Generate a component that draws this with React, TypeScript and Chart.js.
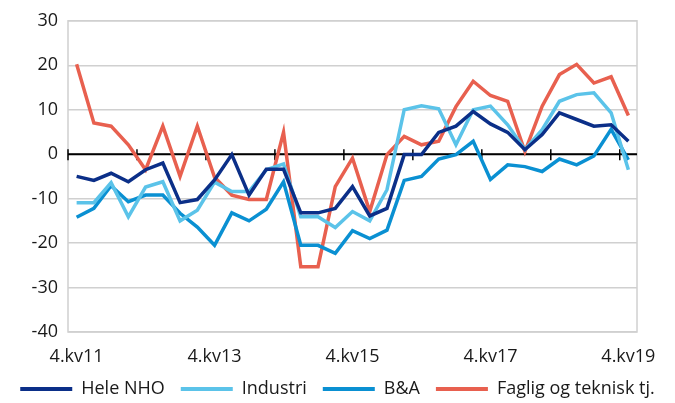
import React, { useEffect, useRef } from "react";
import { Chart, registerables } from "chart.js";

Chart.register(...registerables);

const quarters = [
  "4.kv11",
  "1.kv12", "2.kv12", "3.kv12", "4.kv12",
  "1.kv13", "2.kv13", "3.kv13", "4.kv13",
  "1.kv14", "2.kv14", "3.kv14", "4.kv14",
  "1.kv15", "2.kv15", "3.kv15", "4.kv15",
  "1.kv16", "2.kv16", "3.kv16", "4.kv16",
  "1.kv17", "2.kv17", "3.kv17", "4.kv17",
  "1.kv18", "2.kv18", "3.kv18", "4.kv18",
  "1.kv19", "2.kv19", "3.kv19", "4.kv19",
];

const shownLabels = ["4.kv11", "4.kv13", "4.kv15", "4.kv17", "4.kv19"];
const tickBoundaries = [0, 4, 8, 12, 16, 20, 24, 28, 32];

const heleNHO = [
  -5.0, -5.9, -4.3, -6.2, -3.5, -2.0, -10.9, -10.2, -5.8, -0.1, -9.2,
  -3.4, -3.4, -13.2, -13.2, -12.2, -7.3, -13.9, -12.2, -0.1, -0.1, 4.9,
  6.3, 9.6, 6.8, 4.9, 1.0, 4.4, 9.3, 7.8, 6.3, 6.6, 2.9,
];
const industri = [
  -10.9, -10.9, -6.4, -14.1, -7.4, -6.2, -15.0, -12.6, -6.3, -8.4, -8.4,
  -3.5, -2.2, -14.1, -14.1, -16.5, -12.9, -15.0, -8.0, 10.0, 10.9, 10.2,
  2.1, 10.0, 10.8, 6.6, 1.0, 5.5, 11.9, 13.4, 13.8, 9.3, -3.5,
];
const bogA = [
  -14.2, -12.2, -7.1, -10.7, -9.2, -9.2, -13.3, -16.4, -20.5, -13.2, -15.0,
  -12.4, -6.2, -20.5, -20.5, -22.3, -17.2, -19.0, -17.1, -5.9, -5.0, -1.1,
  -0.1, 2.9, -5.7, -2.4, -2.8, -3.9, -1.1, -2.4, -0.4, 5.6, -1.3,
];
const faglig = [
  20.2, 7.0, 6.3, 2.1, -3.5, 6.3, -5.0, 6.3, -5.2, -9.2, -10.2, -10.2,
  4.9, -25.3, -25.3, -7.3, -0.9, -12.9, -0.1, 4.0, 2.1, 2.9, 10.7, 16.4,
  13.2, 11.9, 0.6, 10.8, 17.9, 20.2, 16.0, 17.4, 8.7,
];

const seriesNames = ["Hele NHO", "Industri", "B&A", "Faglig og teknisk tj."];
const seriesColors = ["#0b2f88", "#5bc3e9", "#0a90d2", "#e8604f"];

const FONT = "'Open Sans', 'Noto Sans', sans-serif";

const framePlugin = {
  id: "frameAndZero",
  beforeDatasetsDraw(chart: any) {
    const { ctx, chartArea, scales } = chart;
    const x = scales.x;
    const y = scales.y;
    ctx.save();
    ctx.strokeStyle = "#d0d0d0";
    ctx.lineWidth = 1.5;
    ctx.strokeRect(chartArea.left, chartArea.top, chartArea.right - chartArea.left, chartArea.bottom - chartArea.top);
    const y0 = y.getPixelForValue(0);
    ctx.strokeStyle = "#000";
    ctx.lineWidth = 2;
    ctx.beginPath();
    ctx.moveTo(chartArea.left, y0);
    ctx.lineTo(chartArea.right, y0);
    ctx.stroke();
    const half = (x.getPixelForValue(1) - x.getPixelForValue(0)) / 2;
    ctx.lineWidth = 1.5;
    for (const b of tickBoundaries) {
      const px = x.getPixelForValue(b) - half;
      ctx.beginPath();
      ctx.moveTo(px, y0 - 5);
      ctx.lineTo(px, y0 + 6);
      ctx.stroke();
    }
    ctx.restore();
  },
};

export default function App() {
  const ref = useRef<HTMLCanvasElement | null>(null);
  useEffect(() => {
    if (!ref.current) return;
    const allData = [heleNHO, industri, bogA, faglig];
    const chart = new Chart(ref.current, {
      type: "line",
      data: {
        labels: quarters,
        datasets: allData.map((d, i) => ({
          label: seriesNames[i],
          data: d,
          borderColor: seriesColors[i],
          backgroundColor: seriesColors[i],
          borderWidth: 3.5,
          pointRadius: 0,
          tension: 0,
          fill: false,
        })),
      },
      options: {
        animation: false,
        responsive: true,
        maintainAspectRatio: false,
        layout: { padding: { left: 0, right: 0, top: 20, bottom: -5 } },
        plugins: {
          tooltip: { enabled: false },
          legend: {
            position: "bottom",
            labels: {
              font: { family: FONT, size: 18 },
              color: "#1a1a1a",
              boxWidth: 52,
              boxHeight: 4,
              padding: 16,
              generateLabels: (c: any) =>
                c.data.datasets.map((ds: any, i: number) => ({
                  text: ds.label,
                  fillStyle: ds.borderColor,
                  strokeStyle: ds.borderColor,
                  lineWidth: 0,
                  datasetIndex: i,
                  hidden: false,
                  fontColor: "#1a1a1a",
                })),
            },
          },
        },
        scales: {
          x: {
            type: "category",
            offset: true,
            grid: { display: false, drawTicks: false },
            border: { display: false },
            ticks: {
              autoSkip: false,
              maxRotation: 0,
              minRotation: 0,
              padding: 14,
              color: "#1a1a1a",
              font: { family: FONT, size: 18 },
              callback: (_v: any, idx: number) =>
                shownLabels.includes(quarters[idx]) ? quarters[idx] : "",
            },
            afterFit: (s: any) => {
              s.height = 32;
            },
          },
          y: {
            min: -40,
            max: 30,
            ticks: {
              stepSize: 10,
              padding: 10,
              color: "#1a1a1a",
              font: { family: FONT, size: 18 },
            },
            grid: { color: "#d0d0d0", lineWidth: 1.5, drawTicks: false },
            border: { display: false },
            afterFit: (s: any) => {
              s.width = 68;
            },
          },
          yRight: {
            position: "right",
            display: true,
            grid: { display: false, drawTicks: false },
            border: { display: false },
            ticks: { display: false },
            afterFit: (s: any) => {
              s.width = 38;
            },
          },
        },
      },
      plugins: [framePlugin],
    } as any);
    return () => chart.destroy();
  }, []);
  return (
    <div style={{ position: "fixed", left: 0, top: 0, width: 675, height: 403, background: "#fff" }}>
      <canvas ref={ref} />
    </div>
  );
}
